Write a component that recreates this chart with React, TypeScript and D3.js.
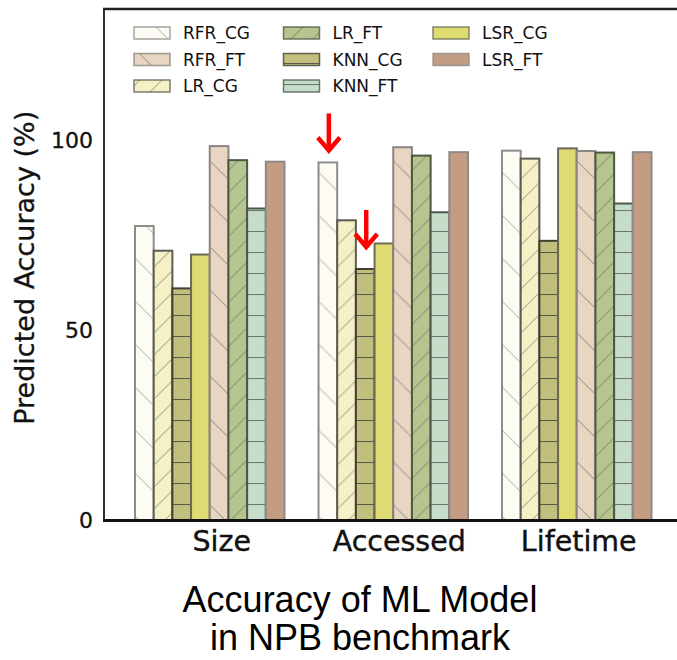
import React from "react";
import * as d3 from "d3";

const categories = ["Size", "Accessed", "Lifetime"];
const seriesOrder = ["RFR_CG", "LR_CG", "KNN_CG", "LSR_CG", "RFR_FT", "LR_FT", "KNN_FT", "LSR_FT"];
const legendOrder = ["RFR_CG", "RFR_FT", "LR_CG", "LR_FT", "KNN_CG", "KNN_FT", "LSR_CG", "LSR_FT"];
const RFR_CG = [77.4, 94.1, 97.2];
const LR_CG = [70.9, 78.9, 95.1];
const KNN_CG = [61.0, 66.1, 73.5];
const LSR_CG = [69.9, 72.8, 97.8];
const RFR_FT = [98.4, 98.1, 97.1];
const LR_FT = [94.7, 95.9, 96.7];
const KNN_FT = [82.0, 81.0, 83.3];
const LSR_FT = [94.3, 96.8, 96.8];
const yTicks = [0, 50, 100];
const yLabel = "Predicted Accuracy (%)";
const captionLines = ["Accuracy of ML Model", "in NPB benchmark"];
// arrows: [category index, series]
const arrows: [number, string][] = [[1, "RFR_CG"], [1, "KNN_CG"]];

const values: Record<string, number[]> = { RFR_CG, LR_CG, KNN_CG, LSR_CG, RFR_FT, LR_FT, KNN_FT, LSR_FT };

type Style = { fill: string; edge: string; hatch: "back" | "fwd" | "horiz" | "none"; hatchColor: string; spacing: number };
const styles: Record<string, Style> = {
  RFR_CG: { fill: "#fdfbf3", edge: "#8c8c8c", hatch: "back", hatchColor: "#c4c4c0", spacing: 43 },
  LR_CG: { fill: "#f6f0c6", edge: "#5c5c52", hatch: "fwd", hatchColor: "#b5b295", spacing: 22 },
  KNN_CG: { fill: "#c2bf7e", edge: "#404032", hatch: "horiz", hatchColor: "#5a5a48", spacing: 21 },
  LSR_CG: { fill: "#dedb72", edge: "#6a6a56", hatch: "none", hatchColor: "#000", spacing: 20 },
  RFR_FT: { fill: "#e8d6c2", edge: "#8a8580", hatch: "back", hatchColor: "#a8a090", spacing: 43 },
  LR_FT: { fill: "#b6c590", edge: "#4e5840", hatch: "fwd", hatchColor: "#8a9a70", spacing: 22 },
  KNN_FT: { fill: "#c6ddc9", edge: "#4e5650", hatch: "horiz", hatchColor: "#6a7a70", spacing: 21 },
  LSR_FT: { fill: "#c49c82", edge: "#8c8a88", hatch: "none", hatchColor: "#000", spacing: 20 },
};

const W = 677, H = 660;
const axisLeft = 104, axisBottom = 520.5, axisTop = 9;
const groupWidth = 149.5;
const labelShift = [12, 6, 2];

function patternPath(s: Style) {
  const S = s.spacing;
  if (s.hatch === "back") return `M0,0L${S},${S}M${S - 3},-3L${S + 3},3M-3,${S - 3}L3,${S + 3}`;
  if (s.hatch === "fwd") return `M0,${S}L${S},0M-3,3L3,-3M${S - 3},${S + 3}L${S + 3},${S - 3}`;
  if (s.hatch === "horiz") return `M0,0.5L${S},0.5`;
  return "";
}

export default function App() {
  const y = d3.scaleLinear().domain([0, 100]).range([axisBottom, 140]);
  const gx = d3.scaleLinear().domain([0, 1]).range([135, 318.5]);
  const inner = d3.scaleBand<string>().domain(seriesOrder).range([0, groupWidth]);
  const bw = inner.bandwidth();

  return (
    <svg width={W} height={H} style={{ position: "absolute", left: 0, top: 0, background: "#fff" }}>
      <defs>
        {seriesOrder.map((k) => {
          const s = styles[k];
          const S = s.spacing;
          return (
            <pattern key={k} id={`pat-${k}`} patternUnits="userSpaceOnUse" width={S} height={S}>
              <rect width={S} height={S} fill={s.fill} />
              {s.hatch !== "none" && <path d={patternPath(s)} stroke={s.hatchColor} strokeWidth={1.1} fill="none" />}
            </pattern>
          );
        })}
      </defs>

      {/* bars */}
      {categories.map((c, ci) => (
        <g key={c} transform={`translate(${gx(ci)},0)`}>
          {seriesOrder.map((k) => {
            const v = values[k][ci];
            return (
              <rect
                key={k}
                x={inner(k)!}
                y={y(v)}
                width={bw}
                height={y(0) - y(v)}
                fill={`url(#pat-${k})`}
                stroke={styles[k].edge}
                strokeWidth={2}
              />
            );
          })}
        </g>
      ))}

      {/* frame */}
      <line x1={axisLeft} x2={axisLeft} y1={axisTop} y2={axisBottom} stroke="#333" strokeWidth={2} />
      <line x1={axisLeft - 1} x2={W + 5} y1={axisTop} y2={axisTop} stroke="#222" strokeWidth={2.5} />
      <line x1={axisLeft - 1} x2={W + 5} y1={axisBottom} y2={axisBottom} stroke="#111" strokeWidth={3} />

      {/* y ticks */}
      {yTicks.map((t) => (
        <text key={t} x={93} y={y(t)} dy="0.36em" textAnchor="end" fontFamily="DejaVu Sans" fontSize={22} fill="#111" stroke="#111" strokeWidth={0.3}>
          {t}
        </text>
      ))}
      <text
        transform={`translate(34,${(axisTop + axisBottom) / 2 + 3}) rotate(-90)`}
        textAnchor="middle"
        fontFamily="DejaVu Sans"
        fontSize={27}
        fill="#111"
        stroke="#111"
        strokeWidth={0.3}
      >
        {yLabel}
      </text>

      {/* x labels */}
      {categories.map((c, ci) => (
        <text key={c} x={gx(ci) + groupWidth / 2 + labelShift[ci]} y={551} textAnchor="middle" fontFamily="DejaVu Sans" fontSize={28.5} fill="#111" stroke="#111" strokeWidth={0.4}>
          {c}
        </text>
      ))}

      {/* legend */}
      {legendOrder.map((k, i) => {
        const col = Math.floor(i / 3);
        const row = i % 3;
        const lx = 134 + col * 149.5;
        const ly = 33 + row * 26.5;
        return (
          <g key={k}>
            <rect x={lx} y={ly - 6} width={36} height={12} fill={`url(#pat-${k})`} stroke={styles[k].edge} strokeOpacity={0.8} strokeWidth={1.5} />
            <text x={lx + 49} y={ly} dy="0.36em" fontFamily="DejaVu Sans" fontSize={17} fill="#111">
              {k}
            </text>
          </g>
        );
      })}

      {/* red arrows */}
      {arrows.map(([ci, k], i) => {
        const cx = gx(ci) + inner(k)! + bw / 2 + 1;
        const tip = y(values[k][ci]) - (i === 0 ? 10 : 20);
        return (
          <g key={i} stroke="#f00" strokeWidth={4.5} fill="none" strokeLinecap="butt">
            <line x1={cx} x2={cx} y1={tip - 39} y2={tip - 2} />
            <path d={`M${cx - 11},${tip - 15}L${cx},${tip - 2}L${cx + 11},${tip - 15}`} strokeLinejoin="miter" />
          </g>
        );
      })}

      {/* caption */}
      {captionLines.map((l, i) => (
        <text key={i} x={360} y={612 + i * 38} textAnchor="middle" fontFamily="Liberation Sans, Arial" fontSize={36} fill="#000">
          {l}
        </text>
      ))}
    </svg>
  );
}
